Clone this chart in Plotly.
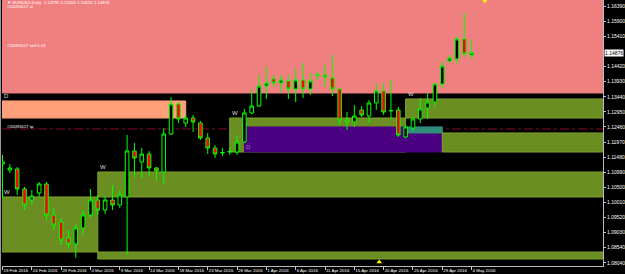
import plotly.graph_objects as go

# ---------------- data ----------------
bars = list(range(65))
opens = [1.11255, 1.11060, 1.11093, 1.10443, 1.10085, 1.10313, 1.10605, 1.09598, 1.09370, 1.08850,
         1.08655, 1.09175, 1.09598, 1.10085, 1.09760, 1.10085, 1.09923, 1.10183, 1.11678, 1.11320,
         1.11580, 1.11125, 1.10995, 1.12230, 1.13205, 1.12588, 1.12750, 1.12588, 1.12100, 1.11775,
         1.11613, 1.11645, 1.11645, 1.11970, 1.12913, 1.13140, 1.13790, 1.14018, 1.13888, 1.13953,
         1.13693, 1.13985, 1.13693, 1.14131, 1.14148, 1.14050, 1.13693, 1.12685, 1.12620, 1.13010,
         1.12815, 1.13238, 1.13628, 1.12978, 1.13010, 1.12133, 1.12425, 1.12718, 1.13075, 1.13270,
         1.13855, 1.14603, 1.14668, 1.15318, 1.14795]
highs = [1.11548, 1.11255, 1.11158, 1.10508, 1.10410, 1.10670, 1.10670, 1.09825, 1.09500, 1.09110,
         1.09305, 1.09760, 1.10443, 1.10248, 1.10215, 1.10573, 1.10410, 1.12198, 1.11938, 1.11775,
         1.11678, 1.11158, 1.12425, 1.13433, 1.13270, 1.12848, 1.12848, 1.12653, 1.12263, 1.11873,
         1.11775, 1.11775, 1.12198, 1.13043, 1.13660, 1.14148, 1.14408, 1.14148, 1.14148, 1.14148,
         1.14375, 1.14538, 1.14213, 1.14245, 1.14473, 1.14798, 1.13725, 1.12945, 1.13173, 1.13140,
         1.13335, 1.13888, 1.13888, 1.13985, 1.13108, 1.12490, 1.12783, 1.13400, 1.13563, 1.13888,
         1.14603, 1.14798, 1.15415, 1.16163, 1.15300]
lows = [1.10150, 1.10963, 1.10248, 1.09760, 1.09923, 1.10183, 1.09435, 1.09110, 1.08623, 1.08525,
        1.08200, 1.08948, 1.09500, 1.09598, 1.09630, 1.09760, 1.09825, 1.08298, 1.10833, 1.10800,
        1.10833, 1.10703, 1.10605, 1.12198, 1.12588, 1.12458, 1.12295, 1.12035, 1.11580, 1.11450,
        1.11515, 1.11548, 1.11548, 1.11938, 1.12880, 1.13108, 1.13368, 1.13758, 1.13595, 1.13368,
        1.13270, 1.13400, 1.13498, 1.13985, 1.13758, 1.13465, 1.12523, 1.12360, 1.12458, 1.12783,
        1.12588, 1.13010, 1.12848, 1.12718, 1.12133, 1.12100, 1.12328, 1.12588, 1.12718, 1.13108,
        1.13725, 1.14538, 1.14505, 1.14733, 1.14655]
closes = [1.11320, 1.11125, 1.10443, 1.09923, 1.10215, 1.10605, 1.09598, 1.09273, 1.08785, 1.08655,
          1.09175, 1.09598, 1.10085, 1.09760, 1.10085, 1.09923, 1.10248, 1.11678, 1.11450, 1.11580,
          1.11125, 1.11028, 1.12230, 1.13205, 1.12718, 1.12750, 1.12620, 1.12100, 1.11775, 1.11580,
          1.11629, 1.11661, 1.11970, 1.12913, 1.13140, 1.13790, 1.13888, 1.13888, 1.13985, 1.13693,
          1.13985, 1.13693, 1.13953, 1.14148, 1.14083, 1.13693, 1.12685, 1.12620, 1.12815, 1.12848,
          1.13238, 1.13628, 1.12945, 1.12994, 1.12198, 1.12458, 1.12718, 1.13043, 1.13270, 1.13855,
          1.14440, 1.14700, 1.15318, 1.14830, 1.14876]

tick_bars = [0, 4, 8, 12, 16, 20, 24, 28, 32, 36, 40, 44, 48, 52, 56, 60, 64]
tick_labels = ["19 Feb 2016", "24 Feb 2016", "29 Feb 2016", "4 Mar 2016", "9 Mar 2016",
               "14 Mar 2016", "18 Mar 2016", "23 Mar 2016", "28 Mar 2016", "1 Apr 2016",
               "6 Apr 2016", "11 Apr 2016", "15 Apr 2016", "20 Apr 2016", "25 Apr 2016",
               "29 Apr 2016", "4 May 2016"]
price_ticks = [1.16390, 1.15900, 1.15410, 1.14420, 1.13930, 1.13440, 1.12950, 1.12460, 1.11970,
               1.11480, 1.10990, 1.10500, 1.10010, 1.09520, 1.09030, 1.08540, 1.08040]

# supply / demand zones (bar index start/end, price low/high)
zone_start = [-2, -2, -2, 13, 13, 31, 33, 55, 55, 60]
zone_end = [83, 25, 13, 83, 83, 55, 60, 60, 83, 83]
zone_low = [1.13563, 1.12750, 1.08395, 1.10183, 1.08168, 1.11645, 1.11645, 1.12263, 1.12750, 1.11645]
zone_high = [1.17000, 1.13303, 1.10183, 1.10995, 1.08395, 1.12750, 1.12458, 1.12458, 1.13368, 1.12263]
zone_label = ["", "D", "W", "W", "", "W", "D", "", "W", ""]
zone_colors = ["#F08080", "#FFA07A", "#6B8E23", "#6B8E23", "#6B8E23", "#6B8E23", "#4B0082",
               "#2F8F78", "#6B8E23", "#6B8E23"]

# order levels
level_names = ["#20091617 sl", "#20091617 sell 0.01", "#20091617 tp"]
level_prices = [1.16283, 1.15041, 1.12393]
level_colors = ["#E02535", "#8C9A5E", "#8B0A2A"]
bid_price = 1.14876
header = "\u25bc EURUSD,Daily  1.14795 1.15300 1.14655 1.14876"

signal_bars = [65.8, 51.4]
signal_prices = [1.16560, 1.08070]
signal_symbols = ["triangle-down", "triangle-up"]

# ---------------- figure ----------------
fig = go.Figure()

shapes = []
for s, e, lo, hi, col in zip(zone_start, zone_end, zone_low, zone_high, zone_colors):
    edge = "#7FA22E" if col == "#6B8E23" else col
    shapes.append(dict(type="rect", xref="x", yref="y", x0=s, x1=e, y0=lo, y1=hi,
                       fillcolor=col, line=dict(color=edge, width=1), layer="below"))
for p, col in zip(level_prices, level_colors):
    shapes.append(dict(type="line", xref="paper", yref="y", x0=0, x1=1, y0=p, y1=p,
                       line=dict(color=col, width=1, dash="dashdot"), layer="below"))
shapes.append(dict(type="line", xref="paper", yref="y", x0=0, x1=1, y0=bid_price, y1=bid_price,
                   line=dict(color="#FFC830", width=1), layer="below"))
shapes.append(dict(type="line", xref="paper", yref="paper", x0=-0.0025, x1=-0.0025, y0=-0.03, y1=1,
                   line=dict(color="#9a9a9a", width=1)))

fig.add_trace(go.Candlestick(
    x=bars, open=opens, high=highs, low=lows, close=closes,
    increasing=dict(line=dict(color="#00FF00", width=1), fillcolor="#000000"),
    decreasing=dict(line=dict(color="#00FF00", width=1), fillcolor="#FF0000"),
    whiskerwidth=0, showlegend=False, hoverinfo="skip"))

fig.add_trace(go.Scatter(x=signal_bars, y=signal_prices, mode="markers",
                         marker=dict(symbol=signal_symbols, size=5, color="#FFFF00"),
                         cliponaxis=False, showlegend=False, hoverinfo="skip"))

FONT = "Liberation Sans"
ann = []
ann.append(dict(xref="paper", yref="paper", x=0.006, y=1.0, xanchor="left", yanchor="top",
                text=header, showarrow=False, borderpad=0,
                font=dict(family=FONT, size=4.3, color="#FFFFFF"), yshift=1))
for name, p in zip(level_names, level_prices):
    ann.append(dict(xref="paper", yref="y", x=0.006, y=p, xanchor="left", yanchor="bottom",
                    text=name, showarrow=False, borderpad=0,
                    font=dict(family=FONT, size=4.3, color="#FFFFFF"), yshift=-1))
for s, lo, hi, lab, col in zip(zone_start, zone_low, zone_high, zone_label, zone_colors):
    if not lab:
        continue
    xs = max(s, -0.05)
    if col == "#4B0082":
        ann.append(dict(xref="x", yref="y", x=xs, y=lo, xanchor="left", yanchor="bottom",
                        text=lab, showarrow=False, font=dict(family=FONT, size=6, color="#9A7CC8")))
    else:
        ann.append(dict(xref="x", yref="y", x=xs, y=hi, xanchor="left", yanchor="bottom",
                        text=lab, showarrow=False, font=dict(family=FONT, size=6, color="#DDDDDD")))
ann.append(dict(xref="paper", yref="y", x=1.0, y=bid_price, xanchor="left", yanchor="middle",
                text=f"{bid_price:.5f}", showarrow=False, bgcolor="#FFFFFF", borderpad=0,
                font=dict(family=FONT, size=5, color="#000000"), xshift=1))

fig.update_layout(
    width=625, height=274,
    margin=dict(l=2, r=22, t=0, b=8),
    paper_bgcolor="#000000", plot_bgcolor="#000000",
    shapes=shapes, annotations=ann,
    boxgap=0.3,
    xaxis=dict(range=[-0.07, 81.93], rangeslider=dict(visible=False), showgrid=False,
               zeroline=False, tickmode="array", tickvals=tick_bars, ticktext=tick_labels,
               ticks="outside", ticklen=3, tickcolor="#CCCCCC", ticklabelposition="outside right",
               tickangle=0, automargin=False,
               tickfont=dict(family=FONT, size=4.4, color="#FFFFFF"),
               showline=True, linecolor="#BBBBBB", linewidth=1),
    yaxis=dict(range=[1.07940, 1.16585], side="right", showgrid=False, zeroline=False,
               tickmode="array", tickvals=price_ticks, tickformat=".5f", automargin=False,
               ticks="outside", ticklen=2, tickcolor="#CCCCCC",
               tickfont=dict(family=FONT, size=5, color="#FFFFFF"),
               showline=True, linecolor="#BBBBBB", linewidth=1),
)

fig.write_html("out.html")
